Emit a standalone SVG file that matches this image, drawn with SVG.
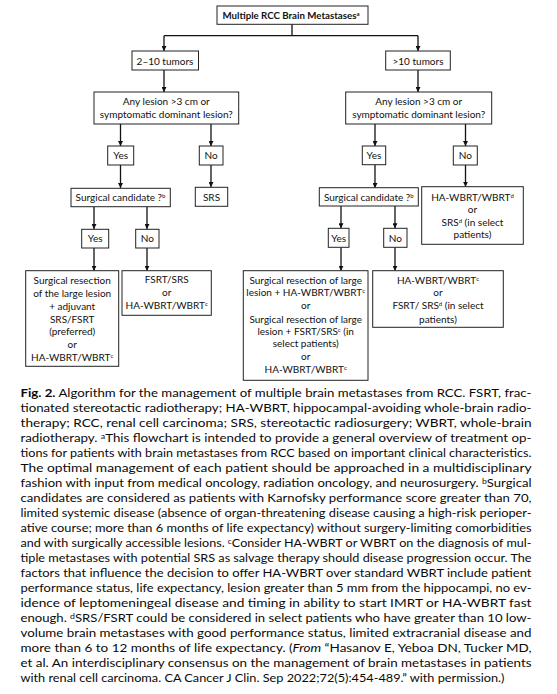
<svg xmlns="http://www.w3.org/2000/svg" width="557" height="694" viewBox="0 0 557 694">
<style>
.bx{fill:#fff;stroke:#222;stroke-width:1}
.t{font-family:Lato,"Liberation Sans",sans-serif;font-size:10px;fill:#111;text-anchor:middle}
.b{font-weight:bold;font-size:9.7px}
.s{font-size:6px}
.ln{fill:none;stroke:#111;stroke-width:1.3}
.cap{font-family:Lato,"Liberation Sans",sans-serif;font-size:11.3px;fill:#0a0a0a}
</style>
<defs>
<marker id="ah" viewBox="0 0 6 6" refX="6" refY="3" markerWidth="5" markerHeight="5" markerUnits="userSpaceOnUse" orient="auto">
<path d="M0,0 L6,3 L0,6 z" fill="#111"/>
</marker>
</defs>
<rect width="557" height="694" fill="#fff"/>

<g id="connectors">
<path class="ln" d="M292,24 V35.7 M164,35.7 H418"/>
<path class="ln" d="M164,35.7 V51" marker-end="url(#ah)"/>
<path class="ln" d="M418,35.7 V51" marker-end="url(#ah)"/>
<path class="ln" d="M164,70 V92" marker-end="url(#ah)"/>
<path class="ln" d="M418,70 V92" marker-end="url(#ah)"/>
<path class="ln" d="M120.5,124 V146" marker-end="url(#ah)"/>
<path class="ln" d="M211,124 V146" marker-end="url(#ah)"/>
<path class="ln" d="M120.5,165 V188" marker-end="url(#ah)"/>
<path class="ln" d="M211,165 V187" marker-end="url(#ah)"/>
<path class="ln" d="M94,206.7 V229" marker-end="url(#ah)"/>
<path class="ln" d="M147,206.7 V229" marker-end="url(#ah)"/>
<path class="ln" d="M94,248 V270.7" marker-end="url(#ah)"/>
<path class="ln" d="M147,248 V270.7" marker-end="url(#ah)"/>
<path class="ln" d="M375,124 V146" marker-end="url(#ah)"/>
<path class="ln" d="M465.5,124 V146" marker-end="url(#ah)"/>
<path class="ln" d="M375,165 V188" marker-end="url(#ah)"/>
<path class="ln" d="M465.5,165 V186.7" marker-end="url(#ah)"/>
<path class="ln" d="M341,206 V228.3" marker-end="url(#ah)"/>
<path class="ln" d="M395,206 V228.3" marker-end="url(#ah)"/>
<path class="ln" d="M341,247.3 V270.7" marker-end="url(#ah)"/>
<path class="ln" d="M395,247.3 V270.7" marker-end="url(#ah)"/>
</g>

<g id="n-root"><rect class="bx" x="217" y="6" width="151" height="18.3"/>
<text class="t b" x="291" y="19">Multiple RCC Brain Metastases<tspan class="s" dy="-3">a</tspan></text></g>

<g id="n-2-10"><rect class="bx" x="132" y="51" width="66.5" height="19"/>
<text class="t" x="165" y="64.5">2–10 tumors</text></g>
<g id="n-gt10"><rect class="bx" x="385.7" y="51" width="64.6" height="19"/>
<text class="t" x="418" y="64.5">&gt;10 tumors</text></g>

<g id="n-q-left"><rect class="bx" x="94" y="92" width="144.7" height="32"/>
<text class="t" x="166.3" y="104.5">Any lesion &gt;3 cm or</text>
<text class="t" x="166.3" y="118">symptomatic dominant lesion?</text></g>
<g id="n-q-right"><rect class="bx" x="345.7" y="92" width="146" height="32"/>
<text class="t" x="418.7" y="104.5">Any lesion &gt;3 cm or</text>
<text class="t" x="418.7" y="118">symptomatic dominant lesion?</text></g>

<g id="n-l-yes"><rect class="bx" x="107.7" y="146" width="26" height="19"/>
<text class="t" x="120.7" y="159">Yes</text></g>
<g id="n-l-no"><rect class="bx" x="199.3" y="146" width="23.7" height="19"/>
<text class="t" x="211.2" y="159">No</text></g>
<g id="n-r-yes"><rect class="bx" x="362.3" y="146" width="23.4" height="18.7"/>
<text class="t" x="374" y="159">Yes</text></g>
<g id="n-r-no"><rect class="bx" x="453.3" y="146" width="24" height="19"/>
<text class="t" x="465.3" y="159">No</text></g>

<g id="n-l-surg"><rect class="bx" x="71" y="188.3" width="99.3" height="18.4"/>
<text class="t" x="120.5" y="201">Surgical candidate ?<tspan class="s" dy="-3">b</tspan></text></g>
<g id="n-srs"><rect class="bx" x="195.3" y="187.3" width="32.4" height="19"/>
<text class="t" x="211.5" y="201">SRS</text></g>
<g id="n-r-surg"><rect class="bx" x="319.3" y="187.7" width="99" height="18.3"/>
<text class="t" x="368.8" y="200.5">Surgical candidate ?<tspan class="s" dy="-3">b</tspan></text></g>
<g id="n-r-wbrt"><rect class="bx" x="421.7" y="186.7" width="101.6" height="57.6"/>
<text class="t" x="472.5" y="200.5">HA-WBRT/WBRT<tspan class="s" dy="-3">d</tspan></text>
<text class="t" x="472.5" y="213">or</text>
<text class="t" x="472.5" y="225.7">SRS<tspan class="s" dy="-3">d</tspan><tspan dy="3"> (in select</tspan></text>
<text class="t" x="472.5" y="238.4">patients)</text></g>

<g id="n-l-yes2"><rect class="bx" x="81.7" y="229.3" width="27" height="18.7"/>
<text class="t" x="95.2" y="242">Yes</text></g>
<g id="n-l-no2"><rect class="bx" x="135.7" y="229.3" width="23.3" height="18.7"/>
<text class="t" x="147.3" y="242">No</text></g>
<g id="n-r-yes2"><rect class="bx" x="328.3" y="228.3" width="20.7" height="19"/>
<text class="t" x="338.7" y="241.5">Yes</text></g>
<g id="n-r-no2"><rect class="bx" x="383.7" y="228.3" width="23.3" height="19"/>
<text class="t" x="395.3" y="241.5">No</text></g>

<g id="n-l-res1"><rect class="bx" x="25.7" y="270.7" width="93" height="95.6"/>
<text class="t" x="72.2" y="283.5">Surgical resection</text>
<text class="t" x="72.2" y="296.5">of the large lesion</text>
<text class="t" x="72.2" y="309.5">+ adjuvant</text>
<text class="t" x="72.2" y="322.5">SRS/FSRT</text>
<text class="t" x="72.2" y="335">(preferred)</text>
<text class="t" x="72.2" y="348">or</text>
<text class="t" x="72.2" y="361">HA-WBRT/WBRT<tspan class="s" dy="-3">c</tspan></text></g>
<g id="n-l-res2"><rect class="bx" x="122" y="270.7" width="89.3" height="44.6"/>
<text class="t" x="166.7" y="283">FSRT/SRS</text>
<text class="t" x="166.7" y="296">or</text>
<text class="t" x="166.7" y="309">HA-WBRT/WBRT<tspan class="s" dy="-3">c</tspan></text></g>

<g id="n-r-res1"><rect class="bx" x="243.3" y="270.7" width="124.7" height="109.6"/>
<text class="t" x="305.7" y="283.7">Surgical resection of large</text>
<text class="t" x="305.7" y="296.4">lesion + HA-WBRT/WBRT<tspan class="s" dy="-3">c</tspan></text>
<text class="t" x="305.7" y="309.4">or</text>
<text class="t" x="305.7" y="322.7">Surgical resection of large</text>
<text class="t" x="305.7" y="334.7">lesion + FSRT/SRS<tspan class="s" dy="-3">c</tspan><tspan dy="3"> (in</tspan></text>
<text class="t" x="305.7" y="347.4">select patients)</text>
<text class="t" x="305.7" y="360.4">or</text>
<text class="t" x="305.7" y="373">HA-WBRT/WBRT<tspan class="s" dy="-3">c</tspan></text></g>
<g id="n-r-res2"><rect class="bx" x="372.7" y="270.7" width="130.6" height="56.6"/>
<text class="t" x="438" y="283.7">HA-WBRT/WBRT<tspan class="s" dy="-3">c</tspan></text>
<text class="t" x="438" y="296.4">or</text>
<text class="t" x="438" y="309.4">FSRT/ SRS<tspan class="s" dy="-3">d</tspan><tspan dy="3"> (in select</tspan></text>
<text class="t" x="438" y="322.7">patients)</text></g>

<g id="caption">
<text class="cap" x="20.5" y="397" textLength="511" lengthAdjust="spacingAndGlyphs"><tspan font-weight="bold">Fig. 2.</tspan> Algorithm for the management of multiple brain metastases from RCC. FSRT, frac-</text>
<text class="cap" x="20.5" y="412" textLength="511" lengthAdjust="spacingAndGlyphs">tionated stereotactic radiotherapy; HA-WBRT, hippocampal-avoiding whole-brain radio-</text>
<text class="cap" x="20.5" y="427" textLength="511" lengthAdjust="spacingAndGlyphs">therapy; RCC, renal cell carcinoma; SRS, stereotactic radiosurgery; WBRT, whole-brain</text>
<text class="cap" x="20.5" y="442" textLength="511" lengthAdjust="spacingAndGlyphs">radiotherapy. <tspan font-size="7.5" dy="-3.5">a</tspan><tspan dy="3.5">This flowchart is intended to provide a general overview of treatment op-</tspan></text>
<text class="cap" x="20.5" y="457" textLength="511" lengthAdjust="spacingAndGlyphs">tions for patients with brain metastases from RCC based on important clinical characteristics.</text>
<text class="cap" x="20.5" y="472" textLength="511" lengthAdjust="spacingAndGlyphs">The optimal management of each patient should be approached in a multidisciplinary</text>
<text class="cap" x="20.5" y="487" textLength="511" lengthAdjust="spacingAndGlyphs">fashion with input from medical oncology, radiation oncology, and neurosurgery. <tspan font-size="7.5" dy="-3.5">b</tspan><tspan dy="3.5">Surgical</tspan></text>
<text class="cap" x="20.5" y="502" textLength="511" lengthAdjust="spacingAndGlyphs">candidates are considered as patients with Karnofsky performance score greater than 70,</text>
<text class="cap" x="20.5" y="517" textLength="511" lengthAdjust="spacingAndGlyphs">limited systemic disease (absence of organ-threatening disease causing a high-risk perioper-</text>
<text class="cap" x="20.5" y="532" textLength="511" lengthAdjust="spacingAndGlyphs">ative course; more than 6 months of life expectancy) without surgery-limiting comorbidities</text>
<text class="cap" x="20.5" y="547" textLength="511" lengthAdjust="spacingAndGlyphs">and with surgically accessible lesions. <tspan font-size="7.5" dy="-3.5">c</tspan><tspan dy="3.5">Consider HA-WBRT or WBRT on the diagnosis of mul-</tspan></text>
<text class="cap" x="20.5" y="562" textLength="511" lengthAdjust="spacingAndGlyphs">tiple metastases with potential SRS as salvage therapy should disease progression occur. The</text>
<text class="cap" x="20.5" y="577" textLength="511" lengthAdjust="spacingAndGlyphs">factors that influence the decision to offer HA-WBRT over standard WBRT include patient</text>
<text class="cap" x="20.5" y="592" textLength="511" lengthAdjust="spacingAndGlyphs">performance status, life expectancy, lesion greater than 5 mm from the hippocampi, no ev-</text>
<text class="cap" x="20.5" y="607" textLength="511" lengthAdjust="spacingAndGlyphs">idence of leptomeningeal disease and timing in ability to start IMRT or HA-WBRT fast</text>
<text class="cap" x="20.5" y="622" textLength="511" lengthAdjust="spacingAndGlyphs">enough. <tspan font-size="7.5" dy="-3.5">d</tspan><tspan dy="3.5">SRS/FSRT could be considered in select patients who have greater than 10 low-</tspan></text>
<text class="cap" x="20.5" y="637" textLength="511" lengthAdjust="spacingAndGlyphs">volume brain metastases with good performance status, limited extracranial disease and</text>
<text class="cap" x="20.5" y="652" textLength="511" lengthAdjust="spacingAndGlyphs">more than 6 to 12 months of life expectancy. (<tspan font-style="italic">From</tspan> “Hasanov E, Yeboa DN, Tucker MD,</text>
<text class="cap" x="20.5" y="667" textLength="511" lengthAdjust="spacingAndGlyphs">et al. An interdisciplinary consensus on the management of brain metastases in patients</text>
<text class="cap" x="20.5" y="682" textLength="484" lengthAdjust="spacingAndGlyphs">with renal cell carcinoma. CA Cancer J Clin. Sep 2022;72(5):454-489.” with permission.)</text>
</g>
</svg>
